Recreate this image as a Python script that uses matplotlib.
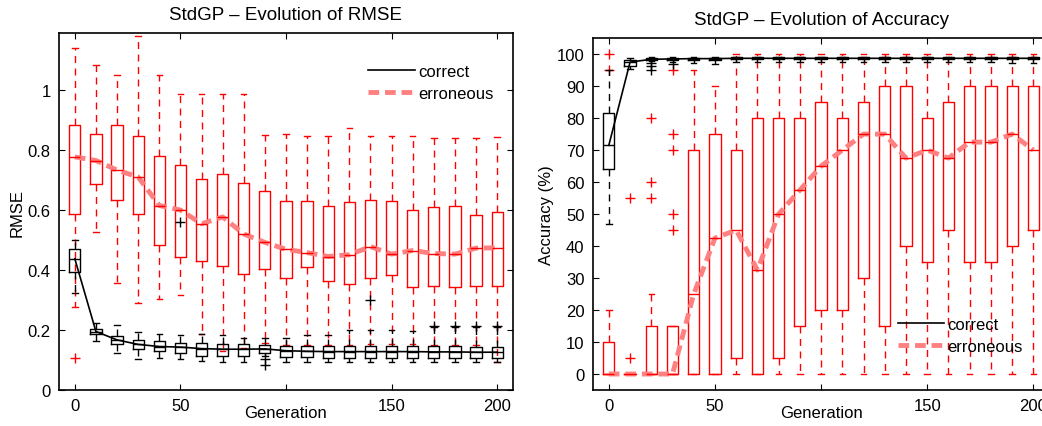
import matplotlib
matplotlib.use('Agg')
import matplotlib.pyplot as plt
from matplotlib.lines import Line2D

plt.rcParams['font.family'] = ['Liberation Sans', 'DejaVu Sans']

gens = [0, 10, 20, 30, 40, 50, 60, 70, 80, 90, 100, 110, 120, 130, 140, 150, 160, 170, 180, 190, 200]

# RMSE - erroneous
rmse_err_med = [0.777, 0.765, 0.733, 0.71, 0.615, 0.6, 0.554, 0.577, 0.52, 0.492, 0.469, 0.458, 0.445, 0.451, 0.478, 0.453, 0.465, 0.455, 0.453, 0.473, 0.474]
rmse_err_q1 = [0.586, 0.687, 0.633, 0.587, 0.482, 0.444, 0.429, 0.412, 0.388, 0.403, 0.372, 0.41, 0.362, 0.354, 0.373, 0.385, 0.343, 0.348, 0.344, 0.346, 0.346]
rmse_err_q3 = [0.883, 0.854, 0.882, 0.848, 0.78, 0.75, 0.705, 0.719, 0.691, 0.663, 0.631, 0.631, 0.615, 0.626, 0.632, 0.631, 0.6, 0.609, 0.612, 0.583, 0.594]
rmse_err_lo = [0.276, 0.527, 0.357, 0.29, 0.304, 0.317, 0.187, 0.13, 0.14, 0.158, 0.15, 0.15, 0.15, 0.15, 0.152, 0.152, 0.152, 0.15, 0.15, 0.15, 0.095]
rmse_err_hi = [1.141, 1.085, 1.049, 1.18, 1.049, 0.988, 0.988, 0.988, 0.988, 0.85, 0.854, 0.848, 0.848, 0.873, 0.848, 0.848, 0.848, 0.839, 0.839, 0.839, 0.843]
rmse_err_out = [[0.108], [], [], [], [], [], [], [], [], [], [], [], [], [], [], [], [], [], [], [], []]

# RMSE - correct
rmse_cor_med = [0.4375, 0.195, 0.167, 0.152, 0.145, 0.143, 0.138, 0.136, 0.136, 0.137, 0.131, 0.129, 0.128, 0.128, 0.128, 0.128, 0.128, 0.127, 0.127, 0.126, 0.126]
rmse_cor_q1 = [0.393, 0.186, 0.155, 0.136, 0.131, 0.125, 0.112, 0.114, 0.114, 0.125, 0.11, 0.11, 0.108, 0.108, 0.108, 0.108, 0.108, 0.107, 0.107, 0.107, 0.107]
rmse_cor_q3 = [0.469, 0.203, 0.179, 0.167, 0.162, 0.158, 0.156, 0.153, 0.152, 0.15, 0.147, 0.147, 0.147, 0.147, 0.147, 0.147, 0.147, 0.147, 0.147, 0.145, 0.145]
rmse_cor_lo = [0.324, 0.164, 0.125, 0.103, 0.108, 0.105, 0.097, 0.092, 0.092, 0.115, 0.095, 0.094, 0.094, 0.094, 0.094, 0.094, 0.094, 0.094, 0.094, 0.094, 0.094]
rmse_cor_hi = [0.499, 0.225, 0.216, 0.195, 0.186, 0.183, 0.186, 0.183, 0.175, 0.172, 0.175, 0.184, 0.184, 0.2, 0.2, 0.2, 0.198, 0.21, 0.21, 0.21, 0.21]
rmse_cor_out = [[], [], [], [], [], [0.56], [], [], [], [0.105, 0.083], [], [], [], [], [0.3], [], [], [0.215], [0.215], [0.215], [0.215]]

# Accuracy - erroneous
acc_err_med = [0, 0, 0, 0, 25, 42.5, 45, 32.5, 50, 57.5, 65, 70, 75, 75, 67.5, 70, 67.5, 72.5, 72.5, 75, 70]
acc_err_q1 = [0, 0, 0, 0, 0, 0, 5, 0, 5, 15, 20, 20, 30, 15, 40, 35, 45, 35, 35, 40, 45]
acc_err_q3 = [10, 0, 15, 15, 70, 75, 70, 80, 80, 80, 85, 80, 85, 90, 90, 80, 85, 90, 90, 90, 90]
acc_err_lo = [0, 0, 0, 0, 0, 0, 0, 0, 0, 0, 0, 0, 0, 0, 0, 0, 0, 0, 0, 0, 0]
acc_err_hi = [20, 0, 25, 15, 95, 90, 100, 100, 100, 100, 100, 100, 100, 100, 100, 100, 100, 100, 100, 100, 100]
acc_err_out = [[100, 95], [55, 5], [80, 60, 55], [95, 75, 70, 50, 45], [], [], [], [], [], [], [], [], [], [], [], [], [], [], [], [], []]

# Accuracy - correct
acc_cor_med = [71.5, 97.5, 98.4, 98.5, 98.6, 98.6, 98.7, 98.7, 98.7, 98.7, 98.7, 98.7, 98.7, 98.7, 98.7, 98.7, 98.7, 98.7, 98.7, 98.7, 98.7]
acc_cor_q1 = [64, 96.4, 98.2, 98.3, 98.3, 98.3, 98.4, 98.4, 98.4, 98.4, 98.4, 98.4, 98.4, 98.4, 98.4, 98.4, 98.4, 98.4, 98.4, 98.4, 98.4]
acc_cor_q3 = [81.5, 98.2, 98.8, 98.8, 98.9, 98.9, 99, 99, 99, 99, 99, 99, 99, 99, 99, 99, 99, 99, 99, 99, 99]
acc_cor_lo = [47, 95.5, 97.8, 97.5, 97.3, 97, 97.5, 97.5, 97.5, 97.5, 97.5, 97.5, 97.5, 97.5, 97.5, 97.5, 97.5, 97.5, 97.5, 97.3, 97.3]
acc_cor_hi = [95, 98.8, 99, 99, 99, 99.2, 99.2, 99.2, 99.2, 99.2, 99.2, 99.2, 99.2, 99.2, 99.2, 99.2, 99.2, 99.2, 99.2, 99.2, 99.2]
acc_cor_out = [[], [], [97.3, 96.2, 95.2], [97.0], [], [], [], [], [], [], [], [], [], [], [], [], [], [], [], [], []]


def make_stats(med, q1, q3, lo, hi, out):
    stats = []
    for i in range(len(med)):
        stats.append(dict(med=med[i], q1=q1[i], q3=q3[i], whislo=lo[i], whishi=hi[i], fliers=out[i]))
    return stats


def draw_boxes(ax, stats, color):
    ax.bxp(stats, positions=gens, widths=5.3, capwidths=2.6, manage_ticks=False,
           boxprops=dict(color=color, lw=1),
           medianprops=dict(color=color, lw=1),
           whiskerprops=dict(color=color, lw=1, linestyle=(0, (5, 4))),
           capprops=dict(color=color, lw=1),
           flierprops=dict(marker='+', markeredgecolor=color, markersize=7, markeredgewidth=1))


def style_axes(ax):
    ax.set_xlim(-7.5, 207.5)
    ax.set_xticks([0, 50, 100, 150, 200])
    ax.set_xticklabels(['0', '50', '', '150', '200'])
    ax.tick_params(direction='in', top=True, right=True, length=4, labelsize=12, pad=6)
    for sp in ax.spines.values():
        sp.set_linewidth(1.2)
    ax.set_xlabel('Generation', fontsize=12, labelpad=-6)


fig = plt.figure(figsize=(10.42, 4.27), dpi=100)
ax1 = fig.add_axes([0.0566, 0.0843, 0.4357, 0.836])
ax2 = fig.add_axes([0.569, 0.0843, 0.438, 0.824])

handles = [Line2D([], [], color='black', lw=1.2),
           Line2D([], [], color='#ff8080', lw=3.5, linestyle=(0, (2.2, 1.2)))]

# left: RMSE
draw_boxes(ax1, make_stats(rmse_err_med, rmse_err_q1, rmse_err_q3, rmse_err_lo, rmse_err_hi, rmse_err_out), 'red')
draw_boxes(ax1, make_stats(rmse_cor_med, rmse_cor_q1, rmse_cor_q3, rmse_cor_lo, rmse_cor_hi, rmse_cor_out), 'black')
ax1.plot(gens, rmse_cor_med, color='black', lw=1.2)
ax1.plot(gens, rmse_err_med, color='#ff8080', lw=3.5, linestyle=(0, (2.2, 1.2)))
style_axes(ax1)
ax1.set_ylim(0, 1.19)
ax1.set_yticks([0, 0.2, 0.4, 0.6, 0.8, 1])
ax1.set_yticklabels(['0', '0.2', '0.4', '0.6', '0.8', '1'])
ax1.set_ylabel('RMSE', fontsize=12, labelpad=2)
ax1.set_title('StdGP \u2013 Evolution of RMSE', fontsize=13.5, pad=10)
ax1.legend(handles, ['correct', 'erroneous'], loc='upper right', bbox_to_anchor=(0.99, 0.955),
           frameon=False, fontsize=12, handlelength=2.8, handletextpad=0.2, labelspacing=0.4)

# right: Accuracy
draw_boxes(ax2, make_stats(acc_err_med, acc_err_q1, acc_err_q3, acc_err_lo, acc_err_hi, acc_err_out), 'red')
draw_boxes(ax2, make_stats(acc_cor_med, acc_cor_q1, acc_cor_q3, acc_cor_lo, acc_cor_hi, acc_cor_out), 'black')
ax2.plot(gens, acc_cor_med, color='black', lw=1.2)
ax2.plot(gens, acc_err_med, color='#ff8080', lw=3.5, linestyle=(0, (2.2, 1.2)))
style_axes(ax2)
ax2.set_ylim(-5, 105)
ax2.set_yticks(range(0, 101, 10))
ax2.set_ylabel('Accuracy (%)', fontsize=12, labelpad=2)
ax2.set_title('StdGP \u2013 Evolution of Accuracy', fontsize=13.5, pad=10)
ax2.legend(handles, ['correct', 'erroneous'], loc='lower right', bbox_to_anchor=(0.975, 0.06),
           frameon=False, fontsize=12, handlelength=2.8, handletextpad=0.2, labelspacing=0.4)

fig.savefig('out.png', dpi=100)
